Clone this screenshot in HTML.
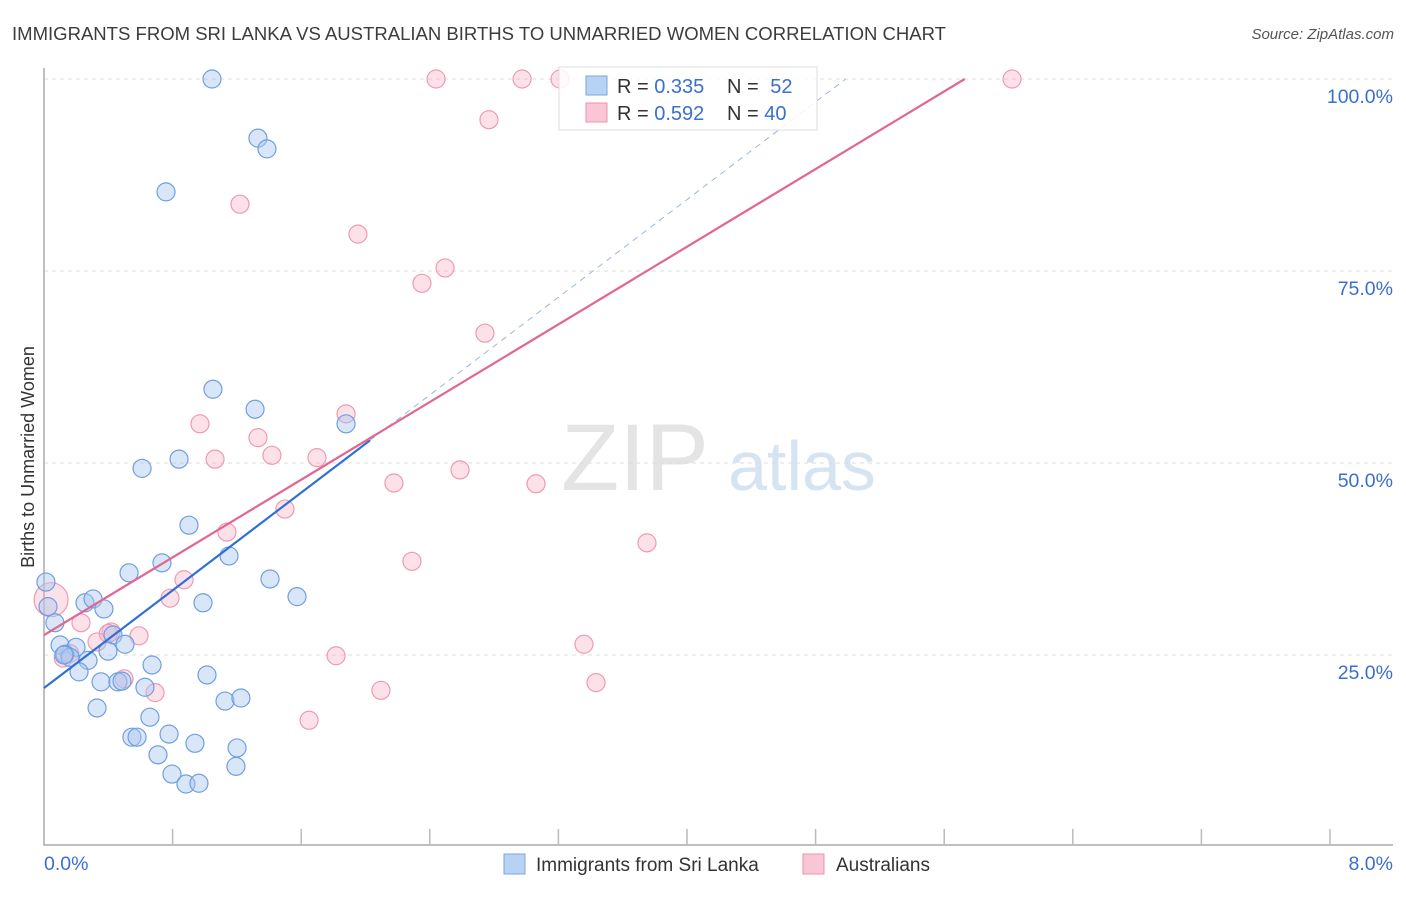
<!DOCTYPE html>
<html><head><meta charset="utf-8"><style>
body{margin:0;background:#fff;font-family:"Liberation Sans",sans-serif}
svg text{font-family:"Liberation Sans",sans-serif}
</style></head><body>
<svg id="chart" width="1406" height="892" xmlns="http://www.w3.org/2000/svg">
<text x="12" y="40" font-size="18.5" fill="#3c3c3c" textLength="934" lengthAdjust="spacingAndGlyphs">IMMIGRANTS FROM SRI LANKA VS AUSTRALIAN BIRTHS TO UNMARRIED WOMEN CORRELATION CHART</text>
<text x="1394" y="39" font-size="15" fill="#555" font-style="italic" text-anchor="end">Source: ZipAtlas.com</text>
<g>
<text x="635" y="490" font-size="95" fill="#e4e4e4" font-family="Liberation Serif" text-anchor="middle">ZIP</text>
<text x="802" y="490" font-size="70" fill="#d6e3f3" text-anchor="middle">atlas</text>
</g>
<g id="grid"></g><g id="axes"></g><g id="marks"></g><g id="lines"></g>
<g>
<rect x="559" y="67" width="258" height="63" fill="rgba(255,255,255,0.85)" stroke="#ddd"/>
<rect x="586" y="76" width="21" height="19" fill="#b8d2f4" stroke="#7aa7e0"/>
<rect x="586" y="103" width="21" height="19" fill="#f9c6d5" stroke="#f090ae"/>
<text x="617" y="93" font-size="20" fill="#333">R = <tspan fill="#3a6fd0">0.335</tspan></text>
<text x="727" y="93" font-size="20" fill="#333">N = <tspan fill="#3a6fd0" dx="6">52</tspan></text>
<text x="617" y="120" font-size="20" fill="#333">R = <tspan fill="#3a6fd0">0.592</tspan></text>
<text x="727" y="120" font-size="20" fill="#333">N = <tspan fill="#3a6fd0">40</tspan></text>
</g>
<g>
<rect x="504" y="854" width="21" height="20" fill="#b8d2f4" stroke="#7aa7e0"/>
<text x="536" y="871" font-size="19" fill="#333">Immigrants from Sri Lanka</text>
<rect x="803" y="854" width="21" height="20" fill="#f9c6d5" stroke="#f090ae"/>
<text x="836" y="871" font-size="19" fill="#333">Australians</text>
</g>
<text transform="translate(34,457) rotate(-90)" font-size="18" fill="#333" text-anchor="middle">Births to Unmarried Women</text>
</svg>
<script>
const blueX=[1.045,1.331,1.387,0.759,1.051,1.313,1.879,0.610,0.840,0.902,1.151,0.734,0.529,1.406,1.574,0.989,0.255,0.305,0.373,0.068,0.025,0.012,0.429,0.100,0.199,0.504,0.398,0.131,0.162,0.274,0.672,0.218,1.014,0.355,0.460,0.485,0.628,0.330,0.659,1.126,1.225,0.547,0.579,0.778,0.939,1.201,0.709,1.194,0.796,0.883,0.964,0.124];
const blueY=[100,92.3,90.9,85.3,59.6,57.0,55.1,49.3,50.5,41.9,37.9,37.0,35.7,34.9,32.6,31.8,31.8,32.3,31.0,29.2,31.3,34.5,27.6,26.3,26.0,26.4,25.5,25.1,24.7,24.3,23.7,22.8,22.4,21.5,21.5,21.6,20.8,18.1,16.9,19.0,19.4,14.3,14.3,14.7,13.5,12.9,12.0,10.5,9.5,8.2,8.3,25.0];
const pinkX=[2.439,2.974,3.210,6.022,2.768,1.219,1.953,2.495,2.351,2.743,1.879,0.970,1.331,1.064,1.418,1.698,2.588,2.177,3.061,1.499,1.138,3.751,2.289,0.871,0.784,0.044,0.230,0.417,0.591,0.330,3.359,1.817,0.498,0.691,2.096,3.434,1.649,0.12,0.40,0.16];
const pinkY=[100,100,100,100,94.7,83.7,79.8,75.4,73.4,66.9,56.4,55.1,53.3,50.5,51.0,50.7,49.1,47.4,47.3,44.0,41.0,39.6,37.2,34.8,32.4,32.2,29.2,28.0,27.5,26.7,26.4,24.9,21.9,20.1,20.4,21.4,16.5,24.6,27.8,25.2];
const yTicks=[25,50,75,100];
const xTickVals=[0.8,1.6,2.4,3.2,4.0,4.8,5.6,6.4,7.2,8.0];
const blueFit=[20.7,15.9];
const pinkFit=[27.6,12.64];
const NS="http://www.w3.org/2000/svg";
const sx=v=>44+v*160.75, sy=v=>847-v*7.68;
function mk(t,a,p){const e=document.createElementNS(NS,t);for(const k in a)e.setAttribute(k,a[k]);document.getElementById(p).appendChild(e);return e;}
yTicks.forEach(v=>{
 const l=mk('line',{x1:44,x2:1393,y1:sy(v),y2:sy(v),stroke:'#ddd','stroke-dasharray':'4,4'},'grid');
 
 
 const t=mk('text',{x:1393,y:sy(v)+24,'font-size':19.5,fill:'#3a6fd0','text-anchor':'end'},'axes');
 t.textContent=v.toFixed(1)+'%';
 
 
});
const ax=mk('path',{d:'M44,68 V845 H1393',fill:'none',stroke:'#aaa','stroke-width':1.5},'axes');


xTickVals.forEach(v=>{
 const l=mk('line',{x1:sx(v),x2:sx(v),y1:829,y2:845,stroke:'#bbb','stroke-width':1.5},'axes');
 
 
});
[[0,'0.0%',44,'start'],[8,'8.0%',1393,'end']].forEach(d=>{
 const t=mk('text',{x:d[2],y:870,'font-size':19.5,fill:'#3a6fd0','text-anchor':d[3]},'axes');
 t.textContent=d[1];
 
 
});
pinkX.forEach((x,i)=>{
 const c=mk('circle',{cx:sx(x),cy:sy(pinkY[i]),r:i==25?17:9,fill:'rgba(247,180,200,0.4)',stroke:'#ee9ab5','stroke-width':1.2},'marks');
 
 
});
blueX.forEach((x,i)=>{
 const c=mk('circle',{cx:sx(x),cy:sy(blueY[i]),r:9,fill:'rgba(170,200,240,0.45)',stroke:'#6f9fe0','stroke-width':1.2},'marks');
 
 
});
const bx2=2.028, bx3=(100-blueFit[0])/blueFit[1];
let l=mk('line',{x1:sx(bx2),y1:sy(blueFit[0]+blueFit[1]*bx2),x2:sx(bx3),y2:sy(100),stroke:'#9bb6dd','stroke-width':1,'stroke-dasharray':'6,5'},'lines');


l=mk('line',{x1:sx(0),y1:sy(blueFit[0]),x2:sx(bx2),y2:sy(blueFit[0]+blueFit[1]*bx2),stroke:'#2f6fd6','stroke-width':2.2},'lines');


const px2=(100-pinkFit[0])/pinkFit[1];
l=mk('line',{x1:sx(0),y1:sy(pinkFit[0]),x2:sx(px2),y2:sy(100),stroke:'#e2668f','stroke-width':2.2},'lines');


</script>
</body></html>
